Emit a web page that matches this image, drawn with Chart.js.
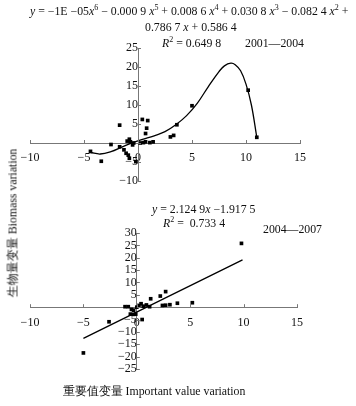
<!DOCTYPE html>
<html>
<head>
<meta charset="utf-8">
<script src="https://cdn.jsdelivr.net/npm/chart.js@4"></script>
<style>
  body { margin: 0; background: #fff; }
  #wrap { position: relative; width: 356px; height: 406px; overflow: hidden; font-family: "Liberation Serif", serif; color: #111; }
  canvas { position: absolute; left: 0; }
  .t { position: absolute; white-space: nowrap; font-size: 11.8px; line-height: 13px; }
  .t i { font-style: italic; }
  .t sup { font-size: 8px; line-height: 0; }
</style>
</head>
<body>
<div id="wrap">
  <canvas id="topChart" style="top:0"></canvas>
  <canvas id="bottomChart" style="top:200px"></canvas>

  <div class="t" style="left:30px; top:5px"><i>y</i> = &minus;1E &minus;05<i>x</i><sup>6</sup> &minus; 0.000 9 <i>x</i><sup>5</sup> + 0.008 6 <i>x</i><sup>4</sup> + 0.030 8 <i>x</i><sup>3</sup> &minus; 0.082 4 <i>x</i><sup>2</sup> +</div>
  <div class="t" style="left:145px; top:21px">0.786 7 <i>x</i> + 0.586 4</div>
  <div class="t" style="left:162px; top:37px"><i>R</i><sup>2</sup> = 0.649 8</div>
  <div class="t" style="left:245px; top:37px">2001—2004</div>

  <div class="t" style="left:152px; top:203px"><i>y</i> = 2.124 9<i>x</i> &minus;1.917 5</div>
  <div class="t" style="left:163px; top:217px"><i>R</i><sup>2</sup> =&nbsp; 0.733 4</div>
  <div class="t" style="left:263px; top:223px">2004—2007</div>

  <div class="t" style="left:13px; top:223px; transform: translate(-50%, -50%) rotate(-90deg);">生物量变量 Biomass variation</div>
  <div class="t" style="left:154px; top:391px; transform: translate(-50%, -50%);">重要值变量 Important value variation</div>
</div>

<script>
// 2001-2004 scatter points [x, y]
const topPoints = [
  [-4.4, -2.2], [-3.4, -4.8], [-2.5, -0.4], [-1.7, 4.7], [-1.7, -1.0],
  [-1.3, -1.8], [-1.1, -2.7], [-1.0, 0.5], [-0.9, -3.2], [-0.8, -4.0],
  [-0.8, 1.0], [-0.7, 0.3], [-0.5, -0.5], [-0.4, 0.0], [-0.2, -4.9],
  [0.2, 0.0], [0.4, 6.2], [0.5, 0.1], [0.7, 0.3], [0.7, 2.5],
  [0.8, 3.9], [0.9, 5.9], [1.1, 0.1], [1.4, 0.3], [3.0, 1.6],
  [3.3, 2.0], [3.6, 4.8], [5.0, 9.8], [10.2, 13.9], [11.0, 1.5]
];
// trend curve
const topCurveX = [-4.4, -3.5, -2.5, -1.5, -0.5, 0.5, 1.5, 2.5, 3.5, 4.5, 5.5, 6.5, 7.5, 8.0, 8.6, 9.0, 9.5, 10.0, 10.5, 11.0];
const topCurveY = [-2.5, -2.9, -2.3, -1.1, 0.1, 1.0, 1.9, 3.0, 4.8, 7.2, 10.5, 14.8, 18.8, 20.3, 21.0, 20.6, 19.0, 15.5, 10.0, 1.5];

// 2004-2007 scatter points [x, y]
const bottomPoints = [
  [-5.0, -18.5], [-2.6, -5.9], [-1.1, 0.2], [-0.8, 0.2], [-0.5, -0.9],
  [-0.3, -1.2], [-0.6, -2.8], [-0.3, -2.9], [-0.1, -2.8], [0.0, 0.0],
  [0.2, 0.7], [0.4, 1.4], [0.6, 0.4], [0.5, -5.0], [0.9, 0.9],
  [1.2, 0.2], [1.3, 3.4], [2.2, 4.5], [2.7, 6.3], [2.4, 0.7],
  [2.7, 0.8], [3.1, 1.0], [3.8, 1.6], [5.2, 1.8], [9.8, 25.8]
];
const bottomLineX = [-5.0, 9.9];
const bottomLineY = [-12.6, 19.1];

const xTicks = [-10, -5, 0, 5, 10, 15];
const topYTicks = [-10, -5, 0, 5, 10, 15, 20, 25];
const bottomYTicks = [-25, -20, -15, -10, -5, 0, 5, 10, 15, 20, 25, 30];

Chart.defaults.font.family = '"Liberation Serif", serif';
Chart.defaults.font.size = 12;
Chart.defaults.color = '#111';

function toXY(pairs) {
  return pairs.map(p => ({ x: p[0], y: p[1] }));
}
function zip(xs, ys) {
  return xs.map((x, i) => ({ x: x, y: ys[i] }));
}
function fmt(v) {
  return String(v).replace('-', '\u2212');
}

// small inward tick marks
const tickMarks = {
  id: 'tickMarks',
  afterDraw(chart) {
    const ctx = chart.ctx;
    const xs = chart.scales.x, ys = chart.scales.y;
    const x0 = xs.getPixelForValue(0), y0 = ys.getPixelForValue(0);
    ctx.save();
    ctx.strokeStyle = '#777';
    ctx.lineWidth = 1;
    ctx.beginPath();
    xs.ticks.forEach(t => {
      const px = Math.round(xs.getPixelForValue(t.value)) + 0.5;
      ctx.moveTo(px, y0);
      ctx.lineTo(px, y0 - 3);
    });
    ys.ticks.forEach(t => {
      const py = Math.round(ys.getPixelForValue(t.value)) + 0.5;
      ctx.moveTo(x0, py);
      ctx.lineTo(x0 + 3, py);
    });
    ctx.stroke();
    ctx.restore();
  }
};

function makeChart(id, h, points, line, yTicks, pad) {
  const el = document.getElementById(id);
  el.width = 356;
  el.height = h;
  el.style.width = '356px';
  el.style.height = h + 'px';
  return new Chart(el, {
    type: 'scatter',
    data: {
      datasets: [
        {
          data: points,
          pointStyle: 'rect',
          pointRadius: 2.6,
          backgroundColor: '#000',
          borderColor: '#000',
          borderWidth: 0
        },
        {
          data: line,
          showLine: true,
          tension: 0.4,
          pointRadius: 0,
          borderColor: '#000',
          borderWidth: 1.3,
          fill: false
        }
      ]
    },
    options: {
      responsive: false,
      animation: false,
      layout: { padding: pad },
      plugins: { legend: { display: false }, tooltip: { enabled: false } },
      scales: {
        x: {
          type: 'linear',
          position: { y: 0 },
          min: xTicks[0],
          max: xTicks[xTicks.length - 1],
          grid: { display: false },
          border: { display: true, color: '#777', width: 1 },
          ticks: { stepSize: 5, padding: 0, maxRotation: 0, autoSkip: false, callback: v => fmt(v) }
        },
        y: {
          type: 'linear',
          position: { x: 0 },
          min: yTicks[0],
          max: yTicks[yTicks.length - 1],
          grid: { display: false },
          border: { display: true, color: '#777', width: 1 },
          ticks: { stepSize: 5, padding: 2, autoSkip: false, callback: v => v === 0 ? '' : fmt(v) }
        }
      }
    },
    plugins: [tickMarks]
  });
}

makeChart('topChart', 200, toXY(topPoints), zip(topCurveX, topCurveY), topYTicks,
  { left: 30, right: 56, top: 48, bottom: 19 });
makeChart('bottomChart', 206, toXY(bottomPoints), zip(bottomLineX, bottomLineY), bottomYTicks,
  { left: 30, right: 59, top: 33, bottom: 37 });
</script>
</body>
</html>
